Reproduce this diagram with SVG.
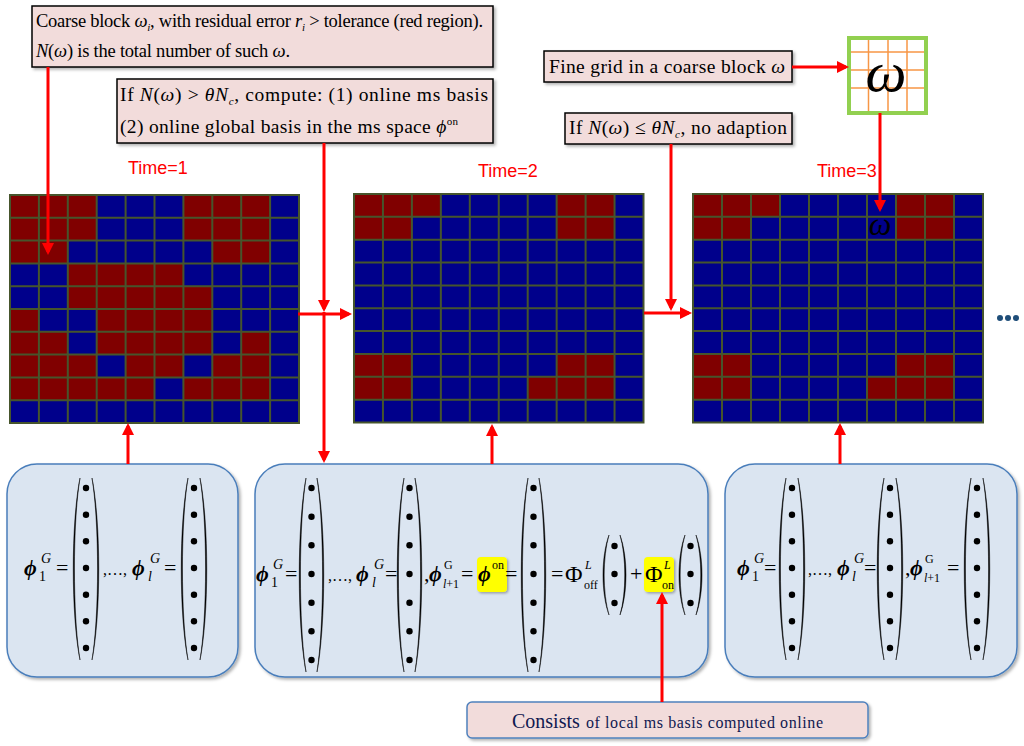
<svg xmlns="http://www.w3.org/2000/svg" xmlns:xlink="http://www.w3.org/1999/xlink" width="1024" height="746" viewBox="0 0 1024 746">
<style>
.box{fill:#f2dcdb;stroke:#000;stroke-width:1.5;filter:url(#sh)}
.bbox{fill:#dbe5f1;stroke:#4a7ebb;stroke-width:1.5;filter:url(#sh)}
.yb{fill:#ffff00;filter:url(#sh2)}
.tt{font-family:"Liberation Serif","Times New Roman","DejaVu Serif",serif;font-size:18.5px;fill:#000}
.t19{font-size:19.5px}
.it{font-style:italic}
.bi{font-style:italic;font-weight:bold}
.math{font-family:"Liberation Serif","Times New Roman","DejaVu Serif",serif;font-size:22px;fill:#000}
.sm{font-size:14px}
.xs{font-size:12px}
.dots{font-size:16px}
.big{font-size:22px}
.time{font-family:"Liberation Sans",Arial,sans-serif;font-size:18px;fill:#ff0000}
.conn{stroke:#ff0000;stroke-width:3;fill:none;marker-end:url(#ah)}
.gl{fill:none;stroke:#46552c;stroke-width:2;vector-effect:non-scaling-stroke}
.par{fill:#000;stroke:#000;stroke-width:0.5}
</style>
<defs>
<filter id="sh" x="-10%" y="-10%" width="130%" height="130%"><feDropShadow dx="2" dy="2" stdDeviation="1.5" flood-color="#000" flood-opacity="0.3"/></filter>
<filter id="sh2" x="-20%" y="-20%" width="150%" height="150%"><feDropShadow dx="1.5" dy="1.5" stdDeviation="1" flood-color="#000" flood-opacity="0.3"/></filter>
<marker id="ah" markerUnits="userSpaceOnUse" markerWidth="12" markerHeight="12" refX="9" refY="6" orient="auto"><path d="M0 0L12 6L0 12z" fill="#ff0000"/></marker>
<path id="gl" class="gl" d="M0 0H10V10H0Z M1 0V10 M2 0V10 M3 0V10 M4 0V10 M5 0V10 M6 0V10 M7 0V10 M8 0V10 M9 0V10 M0 1H10 M0 2H10 M0 3H10 M0 4H10 M0 5H10 M0 6H10 M0 7H10 M0 8H10 M0 9H10"/>
<g id="g23">
<rect width="10" height="10" fill="#00008b"/>
<path fill="#800000" d="M0 0h3v1h-3z M0 1h2v1h-2z M7 0h2v2h-2z M0 7h2v2h-2z M7 7h2v2h-2z M6 8h1v1h-1z"/>
<use xlink:href="#gl"/>
</g>
<g id="c7a">
<path class="par" d="M8 0C-1 45 -1 137 8 182C0.6 137 0.6 45 8 0Z M20 0C29 45 29 137 20 182C27.4 137 27.4 45 20 0Z"/>
<g fill="#000"><circle cx="14" cy="10" r="3.2"/><circle cx="14" cy="36.7" r="3.2"/><circle cx="14" cy="63.3" r="3.2"/><circle cx="14" cy="90" r="3.2"/><circle cx="14" cy="116.7" r="3.2"/><circle cx="14" cy="143.3" r="3.2"/><circle cx="14" cy="170" r="3.2"/></g>
</g>
<g id="c7b">
<path class="par" d="M8 0C-1 48 -1 146 8 194C0.6 146 0.6 48 8 0Z M19 0C28 48 28 146 19 194C26.4 146 26.4 48 19 0Z"/>
<g fill="#000"><circle cx="13.5" cy="10" r="3.2"/><circle cx="13.5" cy="38.7" r="3.2"/><circle cx="13.5" cy="67.3" r="3.2"/><circle cx="13.5" cy="96" r="3.2"/><circle cx="13.5" cy="124.7" r="3.2"/><circle cx="13.5" cy="153.3" r="3.2"/><circle cx="13.5" cy="182" r="3.2"/></g>
</g>
<g id="c3">
<path class="par" d="M8 0C0 22 0 58 8 80C1.6 58 1.6 22 8 0Z M19 0C27 22 27 58 19 80C25.4 58 25.4 22 19 0Z"/>
<g fill="#000"><circle cx="13.5" cy="11" r="3.2"/><circle cx="13.5" cy="39" r="3.2"/><circle cx="13.5" cy="68" r="3.2"/></g>
</g>
</defs>
<rect width="1024" height="746" fill="#fff"/>

<g id="grid1" transform="translate(10 195) scale(28.9 22.8)">
<rect width="10" height="10" fill="#00008b"/>
<path fill="#800000" d="M0 0h3v2h-3z M6 0h3v2h-3z M0 2h2v1h-2z M7 2h2v1h-2z M2 3h4v1h-4z M2 4h5v1h-5z M0 5h1v1h-1z M3 5h4v1h-4z M0 6h2v1h-2z M3 6h4v1h-4z M8 6h1v1h-1z M0 7h3v1h-3z M4 7h2v1h-2z M7 7h2v1h-2z M0 8h5v1h-5z M6 8h3v1h-3z"/>
<use xlink:href="#gl"/>
</g>
<g id="grid2" transform="translate(354 194) scale(28.95 22.85)"><use xlink:href="#g23"/></g>
<g id="grid3">
<g transform="translate(693 194) scale(29 22.85)"><use xlink:href="#g23"/></g>
<text x="880" y="235" text-anchor="middle" class="math it" style="font-size:32px">ω</text>
</g>
<g id="ellipsis" fill="#1f4e79"><circle cx="1000" cy="318" r="3"/><circle cx="1008" cy="318" r="3"/><circle cx="1016" cy="318" r="3"/></g>

<g id="times">
<text class="time" x="128" y="174">Time=1</text>
<text class="time" x="478" y="177">Time=2</text>
<text class="time" x="817" y="177">Time=3</text>
</g>

<g id="note1">
<rect class="box" x="32" y="6" width="461" height="61"/>
<text class="tt" x="36" y="27" textLength="447" lengthAdjust="spacing">Coarse block <tspan class="it">ω</tspan><tspan class="it" font-size="11" dy="4">i</tspan><tspan dy="-4">,  with residual error </tspan><tspan class="it">r</tspan><tspan class="it" font-size="11" dy="4">i</tspan><tspan dy="-4"> &gt; tolerance (red region).</tspan></text>
<text class="tt" x="36" y="57" textLength="254" lengthAdjust="spacing"><tspan class="it">N</tspan>(<tspan class="it">ω</tspan>) is the total number of such <tspan class="it">ω</tspan>.</text>
</g>

<g id="note2">
<rect class="box" x="117" y="79" width="376" height="64"/>
<text class="tt t19" x="120" y="101" textLength="368" lengthAdjust="spacing">If <tspan class="it">N</tspan>(<tspan class="it">ω</tspan>) &gt; <tspan class="it">θN</tspan><tspan class="it" font-size="11" dy="4">c</tspan><tspan dy="-4">,  compute: (1) online ms basis</tspan></text>
<text class="tt t19" x="120" y="133" textLength="338" lengthAdjust="spacing">(2) online global basis in the ms space <tspan class="it">ϕ</tspan><tspan font-size="11" dy="-8">on</tspan></text>
</g>

<g id="note3">
<rect class="box" x="544" y="51" width="248" height="31"/>
<text class="tt t19" x="549" y="73" textLength="236" lengthAdjust="spacing">Fine grid in a coarse block <tspan class="it">ω</tspan></text>
</g>

<g id="note4">
<rect class="box" x="565" y="113" width="227" height="31"/>
<text class="tt t19" x="569" y="134" textLength="218" lengthAdjust="spacing">If <tspan class="it">N</tspan>(<tspan class="it">ω</tspan>) ≤ <tspan class="it">θN</tspan><tspan class="it" font-size="11" dy="4">c</tspan><tspan dy="-4">,  no adaption</tspan></text>
</g>

<g id="omegabox">
<rect x="849" y="38" width="77" height="75" fill="#fff" stroke="#92d050" stroke-width="4"/>
<path d="M868.5 40V111 M888 40V111 M907 40V111 M851 52H924 M851 70H924 M851 88H924" stroke="#f79646" stroke-width="1.5" fill="none"/>
<text x="886" y="91" text-anchor="middle" class="math it" style="font-size:58px">ω</text>
</g>

<g id="basis1">
<rect class="bbox" x="7" y="464" width="231" height="213" rx="30"/>
<g class="math">
<text x="24" y="575" class="bi">ϕ</text><text x="39" y="581" class="sm">1</text><text x="41" y="563" class="sm it">G</text><text x="56" y="575">=</text>
<text x="103" y="575"><tspan class="dots">,…,</tspan><tspan class="bi big" dx="5">ϕ</tspan></text>
<text x="148" y="581" class="sm it">l</text><text x="150" y="563" class="sm it">G</text><text x="164" y="575">=</text>
</g>
<use xlink:href="#c7a" x="72" y="478"/>
<use xlink:href="#c7a" x="180" y="478"/>
</g>

<g id="basis2">
<rect class="bbox" x="255" y="464" width="453" height="213" rx="30"/>
<rect class="yb" x="477" y="557" width="30" height="35" rx="4"/>
<rect class="yb" x="644" y="557" width="30" height="35" rx="4"/>
<g class="math">
<text x="256" y="581" class="bi">ϕ</text><text x="271" y="587" class="sm">1</text><text x="273" y="569" class="sm it">G</text><text x="285" y="581">=</text>
<text x="328" y="581"><tspan class="dots">,…,</tspan><tspan class="bi big" dx="4">ϕ</tspan></text>
<text x="372" y="587" class="sm it">l</text><text x="374" y="569" class="sm it">G</text><text x="385" y="581">=</text>
<text x="424" y="581">,</text>
<text x="429" y="581" class="bi">ϕ</text><text x="444" y="569" class="xs">G</text><text x="443" y="588" class="xs"><tspan class="it">l</tspan>+1</text><text x="461" y="581">=</text>
<text x="478" y="581" class="bi">ϕ</text><text x="492" y="569" class="xs">on</text>
<text x="505" y="581">=</text>
<text x="551" y="581">=</text>
<text x="565" y="582" style="font-size:24px">Φ</text><text x="585" y="569" class="xs it">L</text><text x="584" y="589" class="xs">off</text>
<text x="630" y="581">+</text>
<text x="645" y="582" style="font-size:24px">Φ</text><text x="664" y="569" class="xs it">L</text><text x="662" y="589" class="xs">on</text>
</g>
<use xlink:href="#c7b" x="298" y="478"/>
<use xlink:href="#c7b" x="396" y="478"/>
<use xlink:href="#c7b" x="520" y="478"/>
<use xlink:href="#c3" x="601" y="535"/>
<use xlink:href="#c3" x="677" y="535"/>
</g>

<g id="basis3">
<rect class="bbox" x="725" y="464" width="292" height="213" rx="30"/>
<g class="math">
<text x="737" y="575" class="bi">ϕ</text><text x="752" y="581" class="sm">1</text><text x="754" y="563" class="sm it">G</text><text x="764" y="575">=</text>
<text x="808" y="575"><tspan class="dots">,…,</tspan><tspan class="bi big" dx="5">ϕ</tspan></text>
<text x="852" y="581" class="sm it">l</text><text x="854" y="563" class="sm it">G</text><text x="864" y="575">=</text>
<text x="905" y="575">,</text>
<text x="910" y="575" class="bi">ϕ</text><text x="925" y="563" class="xs">G</text><text x="924" y="582" class="xs"><tspan class="it">l</tspan>+1</text><text x="947" y="575">=</text>
</g>
<use xlink:href="#c7a" x="778" y="478"/>
<use xlink:href="#c7a" x="876" y="478"/>
<use xlink:href="#c7a" x="963" y="478"/>
</g>

<g id="consists">
<rect x="467" y="702" width="401" height="36" rx="5" fill="#f2dcdb" stroke="#4f81bd" stroke-width="1.5" filter="url(#sh)"/>
<text x="512" y="728" font-family="'Liberation Serif','Times New Roman',serif" fill="#101850"><tspan font-size="20">Consists</tspan><tspan font-size="16" x="586" textLength="237" lengthAdjust="spacing">of  local  ms  basis  computed  online</tspan></text>
</g>

<g id="connectors">
<path class="conn" d="M48 67V252"/>
<path class="conn" d="M324 143V309"/>
<path class="conn" d="M324 312V460"/>
<path class="conn" d="M298 314H349"/>
<path class="conn" d="M671 144V308"/>
<path class="conn" d="M644 313H689"/>
<path class="conn" d="M792 67H846"/>
<path class="conn" d="M880 113V209"/>
<path class="conn" d="M128 464V426"/>
<path class="conn" d="M492 464V427"/>
<path class="conn" d="M840 464V426"/>
<path class="conn" d="M662 702V595"/>
</g>
</svg>
